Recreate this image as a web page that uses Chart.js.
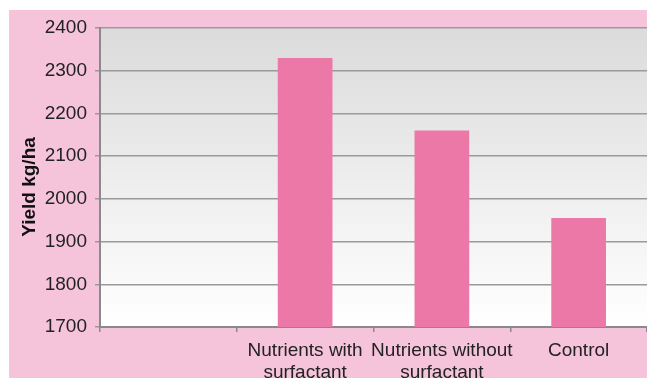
<!DOCTYPE html>
<html>
<head>
<meta charset="utf-8">
<script src="https://cdn.jsdelivr.net/npm/chart.js@4/dist/chart.umd.min.js"></script>
<style>
  html, body { margin: 0; padding: 0; background: #ffffff; }
  #wrap { width: 647px; height: 382px; position: relative; }
</style>
</head>
<body>
<div id="wrap"><canvas id="chart" width="647" height="382"></canvas></div>
<script>
// Treatments (first slot left empty on the axis)
const categories = ['', ['Nutrients with', 'surfactant'], ['Nutrients without', 'surfactant'], 'Control'];
// Yield per treatment, kg/ha
const yieldValues = [null, 2330, 2160, 1955];
// Value axis range and step
const yMin = 1700;
const yMax = 2400;
const yStep = 100;
const yTitle = 'Yield kg/ha';

const FONT = '"Liberation Sans", Arial, Helvetica, sans-serif';

// Page panel + graded plot background
const backdrop = {
  id: 'backdrop',
  beforeDraw(chart) {
    const { ctx, chartArea: a } = chart;
    ctx.save();
    ctx.fillStyle = '#ffffff';
    ctx.fillRect(0, 0, chart.width, chart.height);
    ctx.fillStyle = '#f6c4da';
    ctx.fillRect(9, 10, chart.width - 9, 368);
    const g = ctx.createLinearGradient(0, a.top, 0, a.bottom);
    g.addColorStop(0, '#dbdbdb');
    g.addColorStop(1, '#ffffff');
    ctx.fillStyle = g;
    ctx.fillRect(a.left, a.top, a.right - a.left, a.bottom - a.top);
    ctx.restore();
  },
  // rotated value-axis title, centred on the panel rather than the plot
  afterDraw(chart) {
    const { ctx } = chart;
    ctx.save();
    ctx.translate(30, 187);
    ctx.rotate(-Math.PI / 2);
    ctx.fillStyle = '#111';
    ctx.font = 'bold 19px ' + FONT;
    ctx.textAlign = 'center';
    ctx.textBaseline = 'middle';
    ctx.fillText(yTitle, 0, 0);
    ctx.restore();
  }
};

new Chart(document.getElementById('chart'), {
  type: 'bar',
  data: {
    labels: categories,
    datasets: [{
      data: yieldValues,
      backgroundColor: '#ec78a8',
      borderWidth: 0,
      barPercentage: 0.5,
      categoryPercentage: 0.8
    }]
  },
  plugins: [backdrop],
  options: {
    responsive: false,
    animation: false,
    layout: { padding: { left: 0, top: 28, right: 0, bottom: 0 } },
    plugins: { legend: { display: false }, tooltip: { enabled: false } },
    scales: {
      x: {
        offset: true,
        grid: { offset: true, drawOnChartArea: false, drawTicks: true, tickLength: 5, color: '#8a8a8a', lineWidth: 1.5 },
        border: { display: true, color: '#8a8a8a', width: 2 },
        ticks: { color: '#222', font: { family: FONT, size: 19, lineHeight: 1.2 }, padding: 7, maxRotation: 0, autoSkip: false },
        afterFit(scale) { scale.height = 55; }
      },
      y: {
        min: yMin,
        max: yMax,
        grid: { color: '#9a9a9a', lineWidth: 1.5, tickLength: 5 },
        border: { display: true, color: '#8a8a8a', width: 2 },
        ticks: {
          stepSize: yStep,
          color: '#222',
          font: { family: FONT, size: 19 },
          padding: 8,
          callback: (v) => String(v)
        },
        afterFit(scale) { scale.width = 100; }
      }
    }
  }
});
</script>
</body>
</html>
